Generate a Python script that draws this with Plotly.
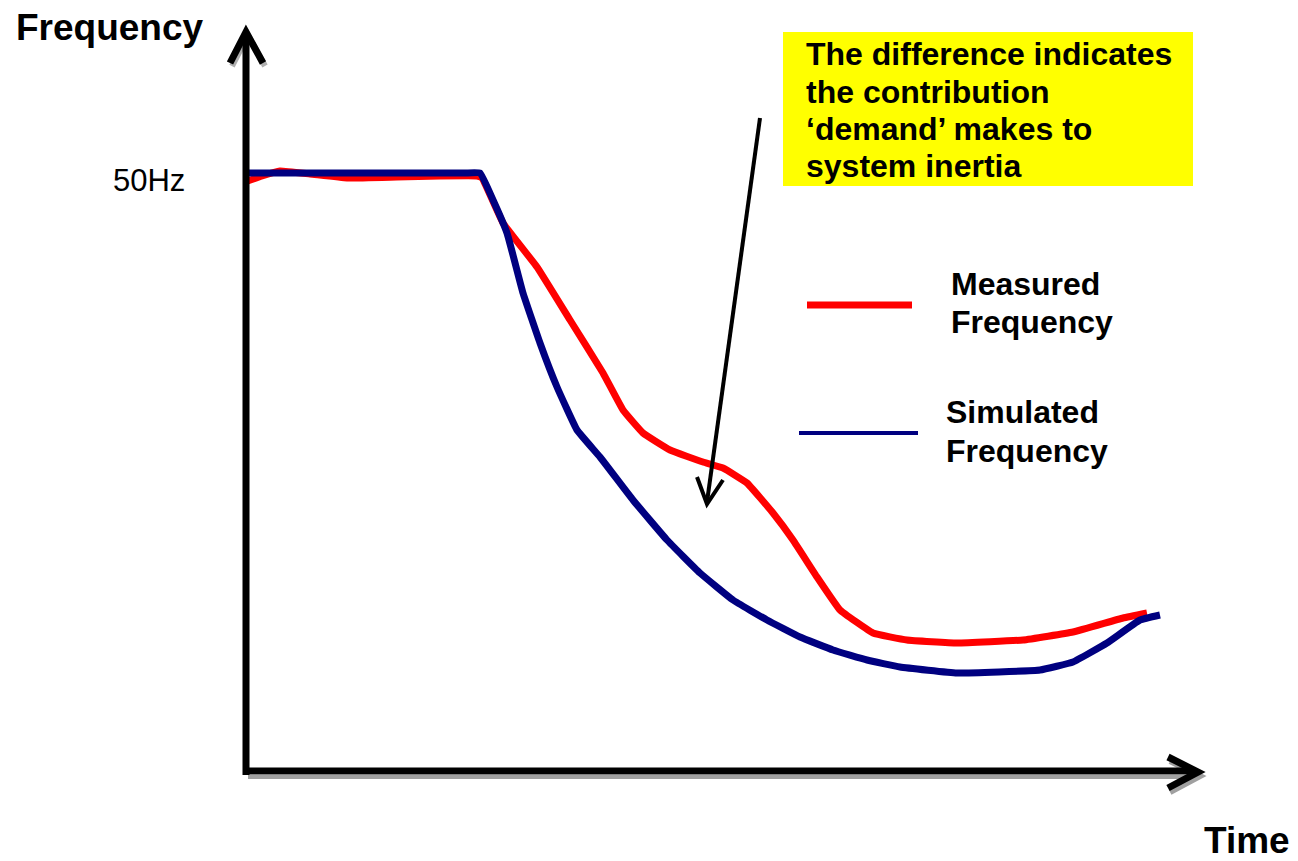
import plotly.graph_objects as go

# ---- data (time in arbitrary units, frequency in Hz; schematic) ----
measured_t = [0.00, 0.17, 0.35, 0.65, 1.02, 1.52, 1.95, 2.32, 2.37, 2.58, 2.92, 3.25, 3.58,
              3.78, 3.98, 4.25, 4.58, 4.78, 5.02, 5.28, 5.48, 5.72, 5.95, 6.28, 6.62, 7.12,
              7.78, 8.28, 8.78, 9.02]
measured_f = [49.996, 50.002, 50.007, 50.004, 50.000, 50.001, 50.002, 50.002, 50.000, 49.955,
              49.911, 49.858, 49.805, 49.768, 49.745, 49.728, 49.716, 49.710, 49.695, 49.665,
              49.638, 49.601, 49.568, 49.545, 49.538, 49.535, 49.538, 49.546, 49.560, 49.565]

simulated_t = [0.02, 0.55, 1.55, 2.20, 2.35, 2.48, 2.62, 2.78, 2.95, 3.12, 3.32, 3.55, 3.88, 4.22,
               4.55, 4.88, 5.22, 5.55, 5.88, 6.22, 6.55, 7.12, 7.95, 8.28, 8.62, 8.95, 9.15]
simulated_f = [50.005, 50.005, 50.005, 50.005, 50.005, 49.978, 49.945, 49.885, 49.835, 49.791,
               49.748, 49.721, 49.678, 49.638, 49.605, 49.578, 49.558, 49.541, 49.528, 49.518,
               49.511, 49.505, 49.508, 49.516, 49.535, 49.558, 49.563]

series_names = ["Measured<br>Frequency", "Simulated<br>Frequency"]
y_tick_label = "50Hz"
y_title = "Frequency"
x_title = "Time"
note_lines = ["The difference indicates", "the contribution",
              "\u2018demand\u2019 makes to", "system inertia"]

W, H = 1298, 861
FONT = "Liberation Sans, Arial, sans-serif"


def px(x):
    return x / W


def py(y):
    return 1 - y / H


fig = go.Figure()
fig.add_trace(go.Scatter(x=measured_t, y=measured_f, mode="lines",
                         line=dict(color="#ff0000", width=7, shape="spline", smoothing=0.3),
                         showlegend=False, hoverinfo="skip"))
fig.add_trace(go.Scatter(x=simulated_t, y=simulated_f, mode="lines",
                         line=dict(color="#000080", width=7, shape="spline", smoothing=0.3),
                         showlegend=False, hoverinfo="skip"))

shapes = []


def pline(x0, y0, x1, y1, color, width):
    shapes.append(dict(type="line", xref="paper", yref="paper",
                       x0=px(x0), y0=py(y0), x1=px(x1), y1=py(y1),
                       line=dict(color=color, width=width)))


def ppath(points, color, width):
    d = "M " + " L ".join(f"{px(x):.5f},{py(y):.5f}" for x, y in points)
    shapes.append(dict(type="path", xref="paper", yref="paper", path=d,
                       line=dict(color=color, width=width)))


# yellow note box
shapes.append(dict(type="rect", xref="paper", yref="paper", layer="below",
                   x0=px(783), y0=py(186), x1=px(1193), y1=py(32),
                   fillcolor="#ffff00", line=dict(width=0)))

# axis shadows
pline(248, 777, 1192, 777, "#a0a0a0", 4)
ppath([(1170, 761), (1200, 776), (1170, 792)], "#a0a0a0", 6)
ppath([(232, 66), (248, 35), (265, 66)], "#b0b0b0", 6)
# axes
pline(246, 775, 246, 34, "#000000", 7)
pline(243, 771, 1196, 771, "#000000", 7)
ppath([(230, 63), (246, 32), (263, 63)], "#000000", 7)
ppath([(1168, 757), (1198, 772), (1168, 788)], "#000000", 7)

# annotation arrow
pline(760, 118, 707, 502, "#000000", 4)
ppath([(697, 477), (707, 504), (723, 480)], "#000000", 4)

# legend lines
pline(807, 305, 912, 305, "#ff0000", 7)
pline(799, 433, 918, 433, "#000080", 4)

annotations = []


def text(x, y, s, size, bold=True, xanchor="left"):
    annotations.append(dict(xref="paper", yref="paper", x=px(x), y=py(y), text=s,
                            showarrow=False, xanchor=xanchor, yanchor="middle",
                            font=dict(family=FONT, size=size, color="#000000",
                                      weight="bold" if bold else "normal")))


text(110, 28, y_title, 37, xanchor="center")
text(1247, 840, x_title, 37, xanchor="center")
text(149, 180, y_tick_label, 31, bold=False, xanchor="center")
for i, ln in enumerate(note_lines):
    text(804, 54 + i * 37.5, ln, 32)
m1, m2 = series_names[0].split("<br>")
s1, s2 = series_names[1].split("<br>")
text(949, 284, m1, 32)
text(949, 322, m2, 32)
text(944, 412, s1, 32)
text(944, 451, s2, 32)

fig.update_layout(
    width=W, height=H, margin=dict(l=0, r=0, t=0, b=0),
    paper_bgcolor="white", plot_bgcolor="white",
    xaxis=dict(range=[-2.45, (W - 245) / 100], visible=False, fixedrange=True),
    yaxis=dict(range=[50 - (H - 178) / 1000, 50 + 178 / 1000], visible=False, fixedrange=True),
    shapes=shapes, annotations=annotations, showlegend=False,
)

fig.write_html("out.html", config={"displayModeBar": False},
               post_script="document.body.style.margin='0';document.body.style.overflow='hidden';")
